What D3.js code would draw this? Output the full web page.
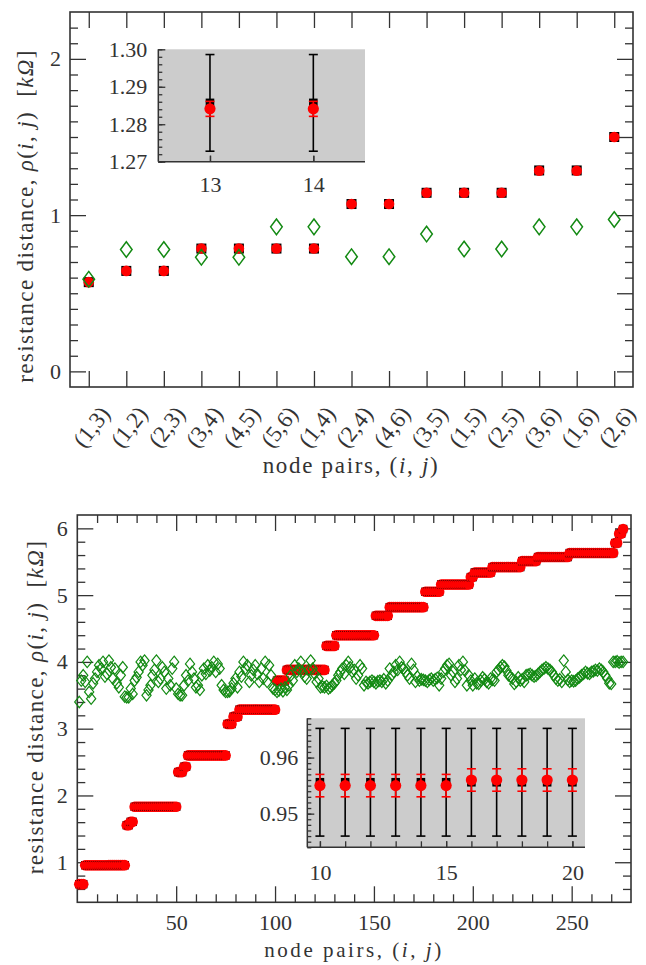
<!DOCTYPE html>
<html>
<head>
<meta charset="utf-8">
<script src="https://cdn.jsdelivr.net/npm/d3@7"></script>
<style>
  html, body { margin: 0; padding: 0; background: #fff; }
  svg { display: block; }
  text { white-space: pre; }
</style>
</head>
<body>
<svg id="fig" width="646" height="965"></svg>
<script>
// ---------- 6-node network: 15 node pairs ----------
const topPairs = ["(1,3)", "(1,2)", "(2,3)", "(3,4)", "(4,5)", "(5,6)", "(1,4)", "(2,4)",
                  "(4,6)", "(3,5)", "(1,5)", "(2,5)", "(3,6)", "(1,6)", "(2,6)"];
const topTheory   = [0.571, 0.643, 0.643, 0.786, 0.786, 0.786, 0.786, 1.071, 1.071, 1.143, 1.143, 1.143, 1.286, 1.286, 1.500];
const topMeasured = [0.571, 0.643, 0.643, 0.786, 0.786, 0.786, 0.786, 1.071, 1.071, 1.143, 1.143, 1.143, 1.284, 1.284, 1.500];
const topModel    = [0.590, 0.780, 0.780, 0.730, 0.730, 0.925, 0.925, 0.734, 0.734, 0.879, 0.783, 0.783, 0.925, 0.925, 0.972];

// zoomed pairs 13 and 14
const topInsetIdx         = [13, 14];
const topInsetTheory      = [1.2857, 1.2857];
const topInsetTheoryErr   = [0.0129, 0.0129];
const topInsetMeasured    = [1.2841, 1.2841];
const topInsetMeasuredErr = [0.0020, 0.0020];
const topInsetYTicks = [1.27, 1.28, 1.29, 1.30];

// ---------- 24-node network: 276 node pairs ----------
const bottomMeasured = [
  0.672, 0.672, 0.672,
  0.955, 0.955, 0.955, 0.955, 0.955, 0.955, 0.955, 0.955, 0.955, 0.955, 0.955, 0.955,
  0.956, 0.956, 0.956, 0.956, 0.956, 0.956, 0.956, 0.956, 0.956,
  1.555, 1.555, 1.605, 1.605,
  1.830, 1.830, 1.830, 1.830, 1.830, 1.830, 1.830, 1.830, 1.830, 1.830, 1.830,
  1.830, 1.830, 1.830, 1.830, 1.830, 1.830, 1.830, 1.830, 1.830, 1.830, 1.830,
  2.350, 2.350, 2.350, 2.430, 2.430,
  2.600, 2.600, 2.600, 2.600, 2.600, 2.600, 2.600, 2.600, 2.600, 2.600,
  2.600, 2.600, 2.600, 2.600, 2.600, 2.600, 2.600, 2.600, 2.600, 2.600,
  3.070, 3.070, 3.070, 3.180, 3.180, 3.180,
  3.285, 3.285, 3.285, 3.285, 3.285, 3.285, 3.285, 3.285, 3.285, 3.285,
  3.285, 3.285, 3.285, 3.285, 3.285, 3.285, 3.285, 3.285, 3.285,
  3.720, 3.720, 3.720, 3.720, 3.720,
  3.880, 3.880, 3.880, 3.880, 3.880, 3.880, 3.880, 3.880, 3.880, 3.880,
  3.880, 3.880, 3.880, 3.880, 3.880, 3.880, 3.880, 3.880, 3.880, 3.880,
  4.240, 4.240, 4.240, 4.240, 4.240,
  4.400, 4.400, 4.400, 4.400, 4.400, 4.400, 4.400, 4.400, 4.400, 4.400,
  4.400, 4.400, 4.400, 4.400, 4.400, 4.400, 4.400, 4.400, 4.400, 4.400,
  4.690, 4.690, 4.690, 4.690, 4.690, 4.690, 4.690,
  4.820, 4.820, 4.820, 4.820, 4.820, 4.820, 4.820, 4.820, 4.820,
  4.820, 4.820, 4.820, 4.820, 4.820, 4.820, 4.820, 4.820, 4.820,
  5.050, 5.050, 5.050, 5.050, 5.050, 5.050, 5.050, 5.050,
  5.160, 5.160, 5.160, 5.160, 5.160, 5.160, 5.160, 5.160, 5.160, 5.160,
  5.160, 5.160, 5.160, 5.160, 5.160,
  5.270, 5.270,
  5.340, 5.340, 5.340, 5.340, 5.340, 5.340, 5.340, 5.340, 5.340,
  5.420, 5.420, 5.420, 5.420, 5.420, 5.420, 5.420, 5.420, 5.420, 5.420,
  5.420, 5.420, 5.420, 5.420, 5.420,
  5.510, 5.510, 5.510, 5.510, 5.510, 5.510, 5.510, 5.510,
  5.570, 5.570, 5.570, 5.570, 5.570, 5.570, 5.570, 5.570,
  5.570, 5.570, 5.570, 5.570, 5.570, 5.570, 5.570, 5.570,
  5.630, 5.630, 5.630, 5.630, 5.630, 5.630, 5.630, 5.630, 5.630, 5.630,
  5.630, 5.630, 5.630, 5.630, 5.630, 5.630, 5.630, 5.630, 5.630, 5.630,
  5.630, 5.630, 5.630,
  5.780, 5.780, 5.920, 5.920, 5.990
];

const bottomModel = [
  3.40, 3.72, 3.80, 3.70, 4.00, 3.55, 3.45, 3.68, 3.75, 3.85,
  3.95, 3.90, 4.00, 3.78, 3.82, 4.02, 3.92, 3.75, 3.90, 3.68,
  3.62, 3.80, 3.92, 3.48, 3.47, 3.47, 3.60, 3.52, 3.72, 3.77,
  3.85, 4.00, 3.95, 4.02, 3.50, 3.58, 3.65, 3.80, 3.88, 4.02,
  3.70, 3.75, 3.92, 3.85, 3.60, 3.75, 3.65, 3.90, 4.00, 3.60,
  3.52, 3.50, 3.50, 3.65, 3.80, 3.72, 3.97, 3.85, 3.75, 3.62,
  3.65, 3.58, 3.80, 3.90, 3.82, 3.95, 3.87, 3.92, 4.00, 3.85,
  3.97, 3.90, 3.65, 3.58, 3.55, 3.55, 3.56, 3.60, 3.68, 3.75,
  3.62, 3.85, 3.78, 4.00, 3.90, 3.95, 3.70, 3.80, 3.88, 3.95,
  3.82, 3.70, 3.90, 3.75, 4.00, 3.70, 3.95, 3.80, 3.60, 3.58,
  3.55, 3.57, 3.60, 3.56, 3.62, 3.58, 3.65, 3.80, 3.72, 3.95,
  3.85, 3.90, 4.00, 3.85, 3.78, 3.75, 3.88, 4.02, 3.90, 3.82,
  3.70, 3.75, 3.62, 3.63, 3.62, 3.64, 3.60, 3.62, 3.65, 3.68,
  3.72, 3.80, 3.85, 3.90, 3.82, 3.95, 4.00, 3.92, 3.85, 3.88,
  3.75, 3.80, 3.95, 3.90, 3.65, 3.70, 3.68, 3.70, 3.72, 3.70,
  3.68, 3.71, 3.72, 3.70, 3.74, 3.68, 3.72, 3.90, 3.80, 3.85,
  3.95, 3.88, 4.00, 3.92, 3.90, 3.85, 3.80, 3.75, 3.97, 3.88,
  3.70, 3.78, 3.72, 3.74, 3.73, 3.72, 3.70, 3.73, 3.75, 3.72,
  3.74, 3.76, 3.65, 3.75, 3.85, 3.90, 3.95, 3.97, 3.80, 3.85,
  3.70, 3.75, 3.95, 3.88, 4.00, 3.87, 3.65, 3.80, 3.72, 3.65,
  3.75, 3.68, 3.67, 3.72, 3.77, 3.74, 3.70, 3.68, 3.75, 3.73,
  3.72, 3.85, 3.88, 3.92, 3.95, 3.93, 3.87, 3.80, 3.78, 3.75,
  3.67, 3.70, 3.77, 3.72, 3.74, 3.70, 3.80, 3.81, 3.82, 3.80,
  3.78, 3.79, 3.82, 3.85, 3.88, 3.90, 3.92, 3.90, 3.88, 3.85,
  3.80, 3.75, 3.72, 3.74, 3.70, 4.02, 3.85, 3.73, 3.70, 3.72,
  3.71, 3.72, 3.75, 3.77, 3.80, 3.82, 3.85, 3.83, 3.82, 3.85,
  3.86, 3.88, 3.87, 3.90, 3.88, 3.85, 3.80, 3.75, 3.68, 3.67,
  4.00, 4.00, 4.01, 3.99, 4.00, 4.00
];

// zoomed pairs 10..20
const bottomInsetIdx         = [10, 11, 12, 13, 14, 15, 16, 17, 18, 19, 20];
const bottomInsetTheory      = [0.9556, 0.9556, 0.9556, 0.9556, 0.9556, 0.9556, 0.9556, 0.9556, 0.9556, 0.9556, 0.9556];
const bottomInsetTheoryErr   = [0.0096, 0.0096, 0.0096, 0.0096, 0.0096, 0.0096, 0.0096, 0.0096, 0.0096, 0.0096, 0.0096];
const bottomInsetMeasured    = [0.9550, 0.9550, 0.9550, 0.9550, 0.9550, 0.9550, 0.9560, 0.9560, 0.9560, 0.9560, 0.9560];
const bottomInsetMeasuredErr = [0.0020, 0.0020, 0.0020, 0.0020, 0.0020, 0.0020, 0.0020, 0.0020, 0.0020, 0.0020, 0.0020];
const bottomInsetXLabels = [10, 15, 20];
const bottomInsetYTicks  = [0.95, 0.96];

// ---------- styling ----------
const FONT = "'Liberation Serif', 'Times New Roman', serif";
const INK = "#333333";
const RED = "#ff0000";
const GREEN = "#138a13";
const INSET_BG = "#cccccc";

const svg = d3.select("#fig");

function range(a, b, step) {
  const out = [];
  const n = Math.round((b - a) / step);
  for (let k = 0; k <= n; k++) out.push(+(a + k * step).toFixed(6));
  return out;
}

// draws one set of inward ticks (optionally labelled) with a d3 axis
function ticks(g, axisFn, scale, values, size, fmt, padding) {
  const ax = axisFn(scale).tickValues(values).tickSize(-size)
    .tickPadding(padding == null ? 10 : padding)
    .tickFormat(fmt || (() => ""));
  g.call(ax);
  g.attr("font-family", null).attr("font-size", null);
  g.select(".domain").remove();
  g.selectAll(".tick line").attr("stroke", INK).attr("stroke-width", 1.3);
  g.selectAll(".tick text").attr("fill", INK)
    .style("font-family", FONT).style("font-size", "22px");
}

function frame(g, x, y) {
  g.append("rect")
    .attr("x", x.range()[0]).attr("y", y.range()[1])
    .attr("width", x.range()[1] - x.range()[0])
    .attr("height", y.range()[0] - y.range()[1])
    .attr("fill", "none").attr("stroke", INK).attr("stroke-width", 1.6);
}

// text built from [string, italic] parts, spaced out to a given length
function title(g, cx, cy, rot, parts, targetLen, size) {
  const t = g.append("text")
    .attr("transform", `translate(${cx},${cy}) rotate(${rot})`)
    .attr("text-anchor", "middle")
    .attr("fill", INK)
    .style("font-family", FONT).style("font-size", `${size || 23}px`);
  parts.forEach(p => t.append("tspan").attr("font-style", p[1] ? "italic" : null).text(p[0]));
  const len = t.node().getComputedTextLength();
  const n = t.text().length;
  if (targetLen && n > 1) t.attr("letter-spacing", ((targetLen - len) / (n - 1)).toFixed(3));
  return t;
}

const yTitleParts = [["resistance distance, ", false], ["\u03c1", true], ["(", false], ["i", true],
  [", ", false], ["j", true], [")  [", false], ["k\u03a9", true], ["]", false]];
const xTitleParts = [["node pairs, (", false], ["i", true], [", ", false], ["j", true], [")", false]];

function diamondPath(w, h) {
  return `M0,${-h}L${w},0L0,${h}L${-w},0Z`;
}

function errorBar(g, x, y, cx, v, e, color, cap) {
  g.append("line").attr("x1", x(cx)).attr("x2", x(cx))
    .attr("y1", y(v - e)).attr("y2", y(v + e))
    .attr("stroke", color).attr("stroke-width", 1.6);
  [v - e, v + e].forEach(yy => {
    g.append("line").attr("x1", x(cx) - cap).attr("x2", x(cx) + cap)
      .attr("y1", y(yy)).attr("y2", y(yy))
      .attr("stroke", color).attr("stroke-width", 1.6);
  });
}

function inset(g, x, y, idx, th, thErr, me, meErr, cfg) {
  g.append("rect")
    .attr("x", x.range()[0]).attr("y", y.range()[1])
    .attr("width", x.range()[1] - x.range()[0])
    .attr("height", y.range()[0] - y.range()[1])
    .attr("fill", INSET_BG);
  // left and bottom spines only
  g.append("line").attr("x1", x.range()[0]).attr("x2", x.range()[0])
    .attr("y1", y.range()[0]).attr("y2", y.range()[1])
    .attr("stroke", INK).attr("stroke-width", 1.5);
  g.append("line").attr("x1", x.range()[0]).attr("x2", x.range()[1])
    .attr("y1", y.range()[0]).attr("y2", y.range()[0])
    .attr("stroke", INK).attr("stroke-width", 1.5);

  const yAx = g.append("g").attr("transform", `translate(${x.range()[0]},0)`);
  ticks(yAx.append("g"), d3.axisLeft, y, cfg.yMinor, 4);
  ticks(yAx.append("g"), d3.axisLeft, y, cfg.yMajor, 7, d3.format(".2f"), cfg.yPad);
  const xAx = g.append("g").attr("transform", `translate(0,${y.range()[0]})`);
  ticks(xAx.append("g"), d3.axisBottom, x, cfg.xTicks, 6);
  ticks(xAx.append("g"), d3.axisBottom, x, cfg.xLabels, 6, d3.format("d"), cfg.xPad);

  idx.forEach((c, k) => {
    errorBar(g, x, y, c, th[k], thErr[k], "#000", 4.5);
    g.append("rect").attr("x", x(c) - 4.3).attr("y", y(th[k]) - 4.3)
      .attr("width", 8.6).attr("height", 8.6).attr("fill", "#000");
    errorBar(g, x, y, c, me[k], meErr[k], RED, 4.5);
    g.append("circle").attr("cx", x(c)).attr("cy", y(me[k])).attr("r", 5.6).attr("fill", RED);
  });
}

// =============== upper panel ===============
const xTop = d3.scaleLinear().domain([0.5, 15.5]).range([70, 633]);
const yTop = d3.scaleLinear().domain([-0.1, 2.3]).range([387, 12]);
const gTop = svg.append("g");

frame(gTop, xTop, yTop);
const pairIdx = topPairs.map((d, i) => i + 1);
ticks(gTop.append("g").attr("transform", `translate(0,${yTop.range()[0]})`), d3.axisBottom, xTop, pairIdx, 16);
ticks(gTop.append("g").attr("transform", `translate(0,${yTop.range()[1]})`), d3.axisTop, xTop, pairIdx, 16);

const topYAll = range(-0.1, 2.3, 0.1);
const topLeftMajor = [0, 1, 2];
const topRightMajor = [0, 0.5, 1, 1.5, 2];
ticks(gTop.append("g").attr("transform", `translate(${xTop.range()[0]},0)`), d3.axisLeft, yTop,
  topYAll.filter(v => !topLeftMajor.includes(v) && v > -0.1 && v < 2.3), 8);
ticks(gTop.append("g").attr("transform", `translate(${xTop.range()[0]},0)`), d3.axisLeft, yTop,
  topLeftMajor, 16, d3.format("d"), 9);
ticks(gTop.append("g").attr("transform", `translate(${xTop.range()[1]},0)`), d3.axisRight, yTop,
  topYAll.filter(v => !topRightMajor.includes(v) && v > -0.1 && v < 2.3), 8);
ticks(gTop.append("g").attr("transform", `translate(${xTop.range()[1]},0)`), d3.axisRight, yTop,
  topRightMajor, 16);

// rotated pair labels
gTop.append("g").selectAll("text").data(topPairs).join("text")
  .attr("transform", (d, i) => `translate(${xTop(i + 1) + 3},${427}) rotate(-52)`)
  .attr("text-anchor", "middle").attr("dominant-baseline", "central")
  .attr("fill", INK).style("font-family", FONT).style("font-size", "23px")
  .text(d => d);

inset(gTop.append("g"),
  d3.scaleLinear().domain([12.5, 14.5]).range([158.3, 365]),
  d3.scaleLinear().domain([1.27, 1.30]).range([161.7, 49.3]),
  topInsetIdx, topInsetTheory, topInsetTheoryErr, topInsetMeasured, topInsetMeasuredErr,
  { yMinor: range(1.27, 1.30, 0.002), yMajor: topInsetYTicks, yPad: 11,
    xTicks: topInsetIdx, xLabels: topInsetIdx, xPad: 15 });

const topPts = gTop.append("g").selectAll("g").data(topMeasured).join("g");
topPts.append("rect")
  .attr("x", (d, i) => xTop(i + 1) - 5).attr("y", (d, i) => yTop(topTheory[i]) - 5)
  .attr("width", 10).attr("height", 10).attr("fill", "#000");
topPts.append("circle")
  .attr("cx", (d, i) => xTop(i + 1)).attr("cy", d => yTop(d)).attr("r", 5.3).attr("fill", RED);
gTop.append("g").selectAll("path").data(topModel).join("path")
  .attr("transform", (d, i) => `translate(${xTop(i + 1)},${yTop(d)})`)
  .attr("d", diamondPath(5.8, 7.8))
  .attr("fill", "none").attr("stroke", GREEN).attr("stroke-width", 1.5);

title(gTop, 33, 216, -90, yTitleParts, 332);
title(gTop, 351, 473, 0, xTitleParts, 175);

// =============== lower panel ===============
const xBot = d3.scaleLinear().domain([0, 280]).range([77.3, 631]);
const yBot = d3.scaleLinear().domain([0.4, 6.2]).range([902.3, 515]);
const gBot = svg.append("g");

frame(gBot, xBot, yBot);
const botXMajor = [50, 100, 150, 200, 250];
const botXMinor = range(10, 270, 10).filter(v => !botXMajor.includes(v));
[["bottom", yBot.range()[0], d3.axisBottom], ["top", yBot.range()[1], d3.axisTop]].forEach(([side, yy, fn]) => {
  ticks(gBot.append("g").attr("transform", `translate(0,${yy})`), fn, xBot, botXMinor, 8);
  ticks(gBot.append("g").attr("transform", `translate(0,${yy})`), fn, xBot, botXMajor, 16,
    side === "bottom" ? d3.format("d") : null, 12);
});
const botYMajor = [1, 2, 3, 4, 5, 6];
const botYMinor = range(0.6, 6.0, 0.2).filter(v => !botYMajor.includes(v));
[["left", xBot.range()[0], d3.axisLeft], ["right", xBot.range()[1], d3.axisRight]].forEach(([side, xx, fn]) => {
  ticks(gBot.append("g").attr("transform", `translate(${xx},0)`), fn, yBot, botYMinor, 8);
  ticks(gBot.append("g").attr("transform", `translate(${xx},0)`), fn, yBot, botYMajor, 16,
    side === "left" ? d3.format("d") : null, 9.5);
});

inset(gBot.append("g"),
  d3.scaleLinear().domain([9.5, 20.5]).range([307.3, 585]),
  d3.scaleLinear().domain([0.944, 0.967]).range([847.3, 718.3]),
  bottomInsetIdx, bottomInsetTheory, bottomInsetTheoryErr, bottomInsetMeasured, bottomInsetMeasuredErr,
  { yMinor: range(0.944, 0.967, 0.001), yMajor: bottomInsetYTicks, yPad: 9,
    xTicks: bottomInsetIdx, xLabels: bottomInsetXLabels, xPad: 17 });

// each pair: reference square first, measured circle on top
const botPts = gBot.append("g").selectAll("g").data(bottomMeasured).join("g")
  .attr("transform", (d, i) => `translate(${xBot(i + 1)},${yBot(d)})`);
botPts.append("rect").attr("x", -4.2).attr("y", -4.2).attr("width", 8.4).attr("height", 8.4).attr("fill", "#000");
botPts.append("circle").attr("r", 5.3).attr("fill", RED);

gBot.append("g").selectAll("path").data(bottomModel).join("path")
  .attr("transform", (d, i) => `translate(${xBot(i + 1)},${yBot(d)})`)
  .attr("d", diamondPath(4.6, 5.7))
  .attr("fill", "none").attr("stroke", GREEN).attr("stroke-width", 1.2);

title(gBot, 43, 707, -90, yTitleParts, 333);
title(gBot, 354, 957, 0, xTitleParts, 177, 21);
</script>
</body>
</html>
